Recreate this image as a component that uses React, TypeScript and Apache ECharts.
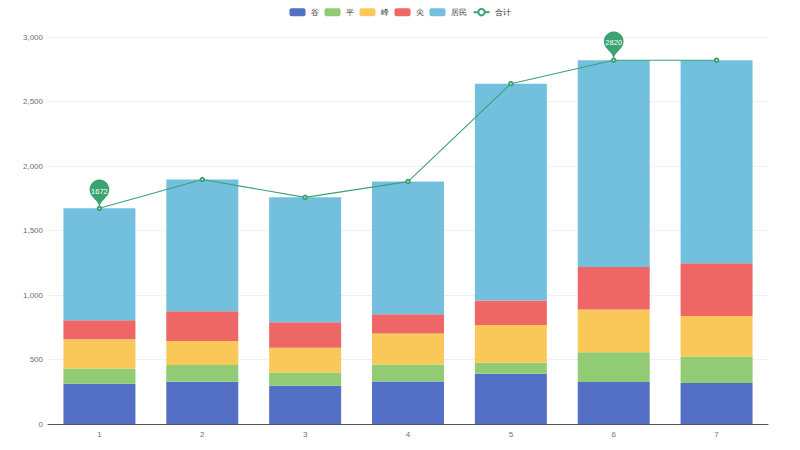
import React, { useEffect, useRef } from "react";
import * as echarts from "echarts";

const categories = ["1", "2", "3", "4", "5", "6", "7"];
const valley = [312, 328, 297, 330, 390, 325, 317];
const flat = [119, 129, 103, 132, 85, 231, 207];
const peak = [226, 187, 192, 239, 293, 331, 314];
const sharp = [147, 230, 197, 150, 189, 331, 409];
const resident = [868, 1021, 968, 1028, 1681, 1602, 1573];
const total = [1672, 1895, 1757, 1879, 2638, 2820, 2820];
const yTicks = { min: 0, max: 3000, interval: 500 };

export default function App() {
  const ref = useRef<HTMLDivElement>(null);
  useEffect(() => {
    if (!ref.current) return;
    const chart = echarts.init(ref.current, null, { renderer: "svg" });
    const bar = (name: string, data: number[]) => ({
      name,
      type: "bar",
      stack: "total",
      barCategoryGap: "30%",
      data,
    });
    chart.setOption({
      animation: false,
      color: ["#5470c6", "#91cc75", "#fac858", "#ee6666", "#73c0de", "#3ba272"],
      textStyle: { fontFamily: "sans-serif" },
      legend: {
        top: 3,
        left: "center",
        itemWidth: 16,
        itemHeight: 8,
        itemGap: 6,
        textStyle: { fontSize: 7.5, color: "#333" },
        data: ["谷", "平", "峰", "尖", "居民", "合计"],
      },
      grid: { left: 48, right: 32, top: 37, bottom: 26, containLabel: false },
      xAxis: {
        type: "category",
        data: categories,
        axisLabel: { fontSize: 8, color: "#6E7079", margin: 6 },
        axisTick: { length: 4 },
      },
      yAxis: {
        type: "value",
        min: yTicks.min,
        max: yTicks.max,
        interval: yTicks.interval,
        axisLabel: { fontSize: 8, color: "#6E7079", margin: 5 },
        splitLine: { lineStyle: { color: "#EEF0F4" } },
      },
      series: [
        bar("谷", valley),
        bar("平", flat),
        bar("峰", peak),
        bar("尖", sharp),
        bar("居民", resident),
        {
          name: "合计",
          type: "line",
          data: total,
          symbol: "emptyCircle",
          symbolSize: 3.5,
          lineStyle: { width: 1.1, color: "#3ba272" },
          itemStyle: { color: "#3ba272", borderWidth: 1 },
          markPoint: {
            symbolSize: 33,
            label: { fontSize: 7.5, color: "#fff" },
            data: [
              { type: "max", name: "max" },
              { type: "min", name: "min" },
            ],
          },
        },
      ],
    });
    return () => chart.dispose();
  }, []);
  return (
    <div
      ref={ref}
      style={{ position: "fixed", left: 0, top: 0, width: 800, height: 450, background: "#fff" }}
    />
  );
}
